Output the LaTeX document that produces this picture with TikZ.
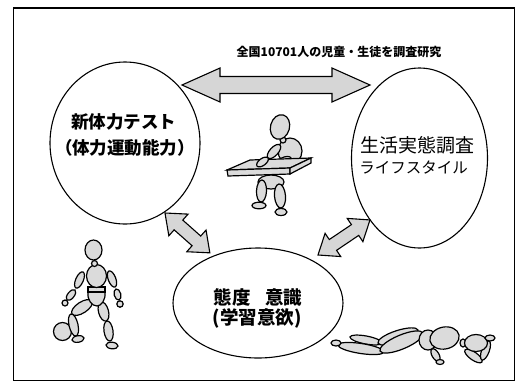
\documentclass[tikz,border=0pt]{standalone}
\usepackage{fontspec}
\newfontfamily\jp{Noto Sans CJK JP}
\usetikzlibrary{shapes.geometric}

% one limb of a mannequin: an ellipse spanning (#1,#2)--(#3,#4), half thickness #5
\newcommand{\limbpart}[5]{%
  \pgfmathsetmacro{\lcx}{(#1+#3)/2}%
  \pgfmathsetmacro{\lcy}{(#2+#4)/2}%
  \pgfmathsetmacro{\lang}{atan2(#2-#4,#3-#1)}%
  \pgfmathsetmacro{\llen}{veclen(#3-#1,#4-#2)/2}%
  \draw[part] (\lcx,\lcy) ellipse [x radius=\llen pt, y radius=#5 pt, rotate=\lang];}

\begin{document}
\begin{tikzpicture}[x=1pt,y=-1pt,
  frame/.style={draw=black,line width=1.6pt},
  oval/.style={draw=black,line width=1.1pt,ellipse,inner sep=0pt},
  link/.style={draw=black,line width=1.1pt,fill=black!16,line join=miter},
  part/.style={draw=black,line width=1.2pt,fill=black!14},
  lbl/.style={inner sep=0pt,anchor=center,text=black}]

\useasboundingbox (0,0) rectangle (520,384);
\draw[frame] (13.5,8) rectangle (514.5,380.5);

% the three survey areas
\node[oval,minimum width=150,minimum height=162] (fit) at (125,143) {};
\node[oval,minimum width=136,minimum height=180] (life) at (419.5,158) {};
\node[oval,minimum width=170,minimum height=110] (mind) at (258,303) {};

\node[lbl,font=\jp\bfseries\fontsize{12}{12}\selectfont] (title) at (339,52) {全国10701人の児童・生徒を調査研究};

\node[lbl,font=\jp\bfseries\fontsize{17.5}{17.5}\selectfont] (fitA) at (123.5,122) {新体力テスト};
\node[lbl,font=\jp\bfseries\fontsize{17.5}{17.5}\selectfont] (fitB) at (125,148) {（体力運動能力）};

\node[lbl,font=\jp\fontsize{19}{19}\selectfont] (lifeA) at (417.5,145) {生活実態調査};
\node[lbl,font=\jp\fontsize{15.5}{15.5}\selectfont] (lifeB) at (413.5,168) {ライフスタイル};

\node[lbl,font=\jp\bfseries\fontsize{18.5}{18.5}\selectfont] (mindA) at (258,297) {態度\hspace{0.8em}意識};
\node[lbl,font=\jp\bfseries\fontsize{18.5}{18.5}\selectfont] (mindB) at (257,318) {(学習意欲)};

% broad two-way arrows between the areas
\begin{scope}[shift={(182,85)}]
  \draw[link] (0,0) -- (38,-17) -- (38,-8.5) -- (150,-8.5) -- (150,-17) -- (188,0)
    -- (150,17) -- (150,8.5) -- (38,8.5) -- (38,17) -- cycle;
\end{scope}
\begin{scope}[shift={(165,213)},rotate=-41.6]
  \draw[link] (0,0) -- (18,-14.5) -- (18,-6.5) -- (42,-6.5) -- (42,-14.5) -- (60,0)
    -- (42,14.5) -- (42,6.5) -- (18,6.5) -- (18,14.5) -- cycle;
\end{scope}
\begin{scope}[shift={(318,255)},rotate=34]
  \draw[link] (0,0) -- (18,-14) -- (18,-6.5) -- (44.7,-6.5) -- (44.7,-14) -- (62.7,0)
    -- (44.7,14) -- (44.7,6.5) -- (18,6.5) -- (18,14) -- cycle;
\end{scope}

% pupil sitting at a desk
\draw[part] (271,182) ellipse [x radius=13pt, y radius=7pt];
\limbpart{262}{180}{261}{202}{5}
\draw[part] (259,205.5) ellipse [x radius=7pt, y radius=3.3pt];
\limbpart{279}{184}{281}{208}{5.5}
\draw[part] (281,212) ellipse [x radius=6pt, y radius=3.5pt];
\draw[part] (290,151) ellipse [x radius=12pt, y radius=13pt];
\limbpart{291}{158}{276}{165}{4}
\draw[part] (227,170) -- (250,160) -- (311,158) -- (290,168) -- cycle;
\draw[part] (227,170) -- (290,168) -- (290,174) -- (228,176) -- cycle;
\draw[part] (290,168) -- (311,158) -- (311,163) -- (290,174) -- cycle;
\limbpart{280}{145}{268}{158}{4.2}
\limbpart{268}{158}{257}{166}{3.5}
\draw[part] (283,140) ellipse [x radius=3pt, y radius=3pt];
\draw[part] (280,127) ellipse [x radius=9.5pt, y radius=12.5pt, rotate=-15];

% mannequin with a ball
\draw[part] (62.5,331.5) circle [radius=9pt];
\limbpart{101}{302}{106}{321}{5}
\limbpart{107}{321}{110}{341}{4.5}
\limbpart{106}{345}{118}{346}{3.3}
\limbpart{92}{301}{72}{314}{5.5}
\limbpart{71}{314}{76}{336}{4.5}
\limbpart{72}{340}{84}{338}{3.3}
\draw[part] (88,292) -- (105,292) .. controls (106,300) and (101,306) .. (97,306)
  .. controls (92,306) and (87,300) .. (88,292) -- cycle;
\draw[part] (88,287) rectangle (105,292);
\limbpart{83}{272}{76}{288}{3.8}
\limbpart{75}{290}{67}{300}{3.3}
\draw[part] (65,303) circle [radius=3pt];
\limbpart{109}{271}{115}{287}{3.8}
\limbpart{116}{289}{119}{300}{3.3}
\draw[part] (120,304) circle [radius=3.2pt];
\draw[part] (96.5,276) ellipse [x radius=10pt, y radius=11.5pt];
\draw[part] (94.5,263.5) ellipse [x radius=3pt, y radius=3pt];
\draw[part] (93.5,250) ellipse [x radius=8.5pt, y radius=10pt];

% mannequin lying on the floor
\limbpart{350}{337}{382}{343}{4}
\limbpart{338}{345}{384}{352}{5}
\draw[part] (336,343) ellipse [x radius=5pt, y radius=3pt];
\limbpart{378}{343}{418}{330}{6}
\limbpart{380}{351}{423}{333}{7}
\draw[part] (428,340) ellipse [x radius=9pt, y radius=10pt];
\limbpart{430}{341}{459}{335}{11}
\limbpart{432}{349}{439}{361}{3.5}
\draw[part] (440,362) ellipse [x radius=4pt, y radius=2.5pt];
\draw[part] (463,343) ellipse [x radius=3pt, y radius=4pt];
\limbpart{465}{350}{482}{362}{4}
\limbpart{482}{360}{489}{341}{3.8}
\draw[part] (476,343) ellipse [x radius=11.5pt, y radius=8.5pt];
\draw[part] (490,338) ellipse [x radius=5pt, y radius=3pt];
\end{tikzpicture}
\end{document}
